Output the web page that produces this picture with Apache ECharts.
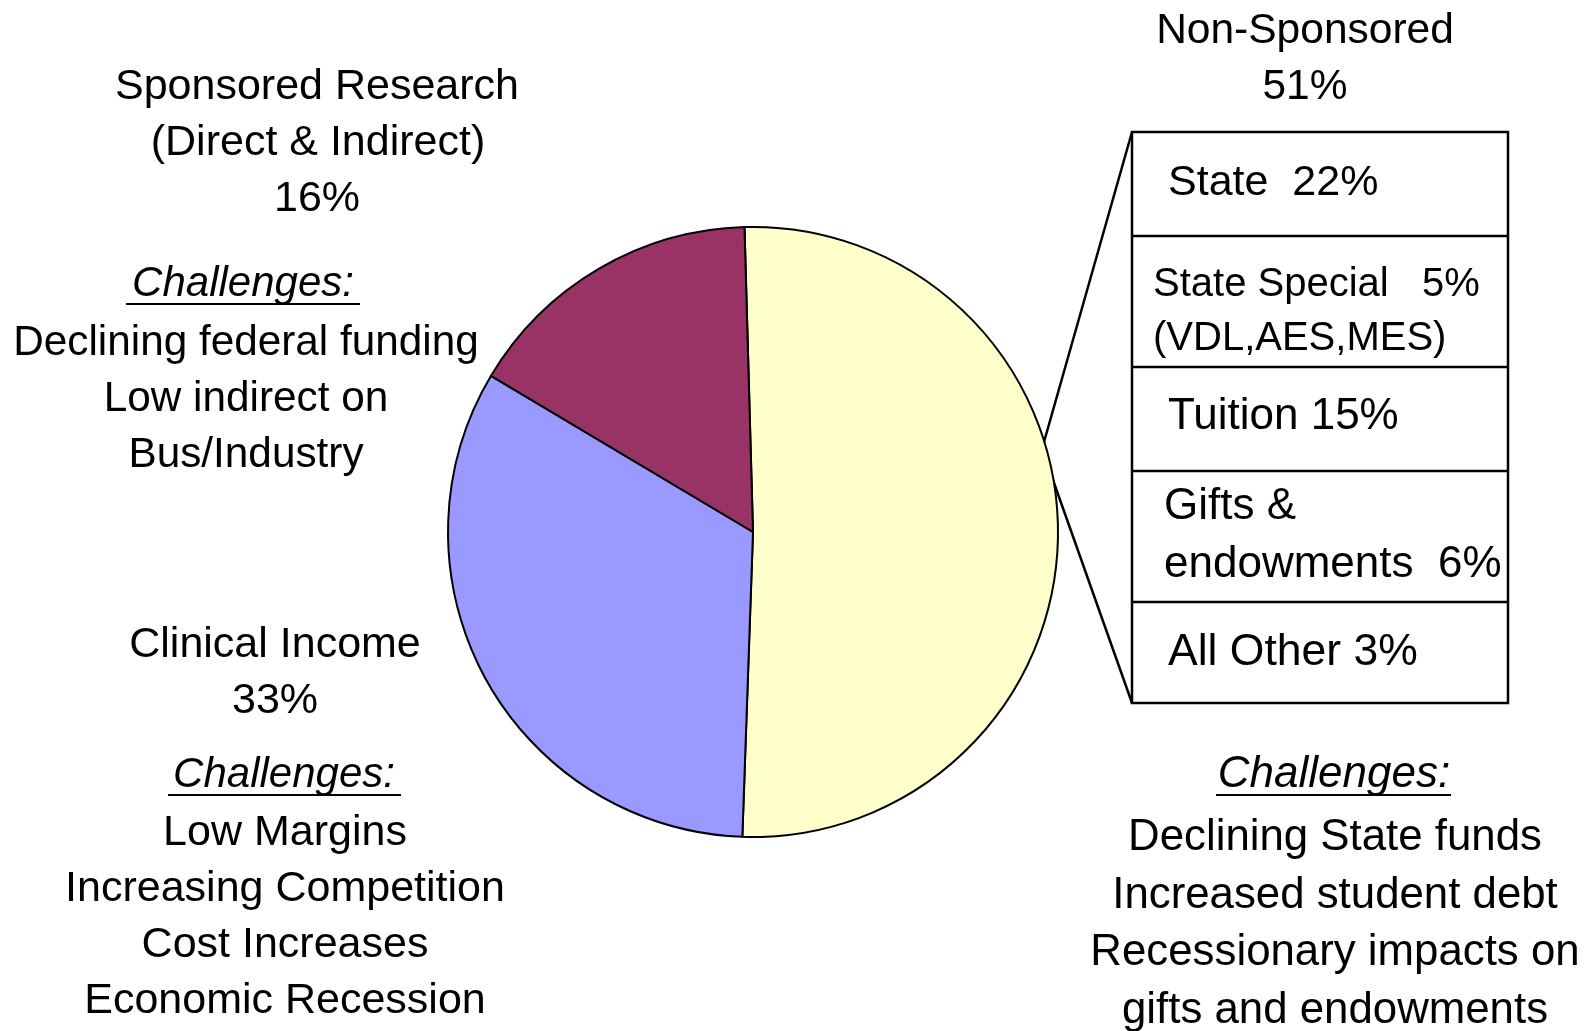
<!DOCTYPE html>
<html>
<head>
<meta charset="utf-8">
<title>Revenue sources</title>
<script src="https://cdn.jsdelivr.net/npm/echarts@6/dist/echarts.min.js"></script>
<style>
  html, body { margin: 0; padding: 0; background: #fff; }
  #chart { width: 1593px; height: 1031px; }
</style>
</head>
<body>
<div id="chart"></div>
<script>
// main split of revenue
const segments = ['Non-Sponsored', 'Clinical Income', 'Sponsored Research'];
const shares = [51, 33, 16];
const segColors = ['#FFFFCC', '#9999FF', '#993366'];

// non-sponsored breakdown (box on the right)
const subLabels = ['State  {v}%', 'State Special   {v}%\n(VDL,AES,MES)', 'Tuition {v}%', 'Gifts &\nendowments  {v}%', 'All Other {v}%'];
const subShares = [22, 5, 15, 6, 3];

// challenge notes
const researchNotes = ['Declining federal funding', 'Low indirect on', 'Bus/Industry'];
const clinicalNotes = ['Low Margins', 'Increasing Competition', 'Cost Increases', 'Economic Recession'];
const nonSponsoredNotes = ['Declining State funds', 'Increased student debt', 'Recessionary impacts on', 'gifts and endowments'];

const FONT = '"Liberation Sans", Arial, sans-serif';
const DY = 3; // glyph centre vs middle baseline
const chart = echarts.init(document.getElementById('chart'));

function txt(text, x, y, size, opts) {
  opts = opts || {};
  return {
    type: 'text',
    x: x,
    y: y + DY,
    silent: true,
    style: {
      text: text,
      font: (opts.italic ? 'italic ' : '') + size + 'px ' + FONT,
      fill: '#000',
      textAlign: opts.align || 'center',
      textVerticalAlign: 'middle',
      lineHeight: opts.lineHeight || size * 1.25
    }
  };
}

function underline(x1, x2, y) {
  return {
    type: 'line',
    silent: true,
    shape: { x1: x1, y1: y, x2: x2, y2: y },
    style: { stroke: '#000', lineWidth: 2 }
  };
}

const elements = [];

// Sponsored research block (top left)
elements.push(txt('Sponsored Research', 317, 84, 43));
elements.push(txt('(Direct & Indirect)', 318, 140, 43));
elements.push(txt(shares[2] + '%', 317, 196, 43));
elements.push(txt('Challenges:', 243, 281, 42, { italic: true }));
elements.push(underline(126, 360, 304));
researchNotes.forEach((t, i) => elements.push(txt(t, 246, 340 + i * 56, 42.3)));

// Clinical block (bottom left)
elements.push(txt(segments[1], 275, 642, 43));
elements.push(txt(shares[1] + '%', 275, 698, 43));
elements.push(txt('Challenges:', 284, 772, 42, { italic: true }));
elements.push(underline(168, 401, 795));
clinicalNotes.forEach((t, i) => elements.push(txt(t, 285, 830 + i * 56, 43)));

// Non-sponsored header
elements.push(txt(segments[0], 1305, 28, 42.5));
elements.push(txt(shares[0] + '%', 1305, 84, 42.5));

// Non-sponsored challenges (bottom right)
elements.push(txt('Challenges:', 1334, 772, 44, { italic: true }));
elements.push(underline(1216, 1451, 795));
nonSponsoredNotes.forEach((t, i) => elements.push(txt(t, 1335, 835 + i * 57.7, 43.8)));

// breakdown box
const boxLeft = 1132, boxRight = 1508;
const rowEdges = [132, 236, 367, 471, 602, 703];
const rowTextY = [180, 309, 414, 533, 650];
const rowTextX = [1168, 1153, 1168, 1164, 1168];
const rowFont = [43, 40, 44, 44, 44.5];
const rowLineH = [54, 54, 54, 58, 54];

elements.push({
  type: 'rect',
  silent: true,
  shape: { x: boxLeft, y: rowEdges[0], width: boxRight - boxLeft, height: rowEdges[5] - rowEdges[0] },
  style: { fill: '#fff', stroke: '#000', lineWidth: 2.5 }
});
for (let i = 1; i < rowEdges.length - 1; i++) {
  elements.push({
    type: 'line',
    silent: true,
    shape: { x1: boxLeft, y1: rowEdges[i], x2: boxRight, y2: rowEdges[i] },
    style: { stroke: '#000', lineWidth: 2.5 }
  });
}
subLabels.forEach((lab, i) => {
  elements.push(txt(lab.replace('{v}', subShares[i]), rowTextX[i], rowTextY[i], rowFont[i],
    { align: 'left', lineHeight: rowLineH[i] }));
});

// connectors from the box to the pie edge
const joint = [1042, 449];
elements.push({
  type: 'line', silent: true,
  shape: { x1: boxLeft, y1: rowEdges[0], x2: joint[0], y2: joint[1] },
  style: { stroke: '#000', lineWidth: 2.5 }
});
elements.push({
  type: 'line', silent: true,
  shape: { x1: boxLeft, y1: rowEdges[5], x2: joint[0], y2: joint[1] },
  style: { stroke: '#000', lineWidth: 2.5 }
});

chart.setOption({
  animation: false,
  backgroundColor: '#fff',
  series: [
    {
      type: 'pie',
      center: [753, 532],
      radius: 305,
      startAngle: 91.6,
      clockwise: true,
      silent: true,
      label: { show: false },
      labelLine: { show: false },
      itemStyle: { borderColor: '#000', borderWidth: 2 },
      emphasis: { disabled: true },
      data: segments.map((name, i) => ({
        name: name,
        value: shares[i],
        itemStyle: { color: segColors[i] }
      }))
    }
  ],
  graphic: { elements: elements }
});
</script>
</body>
</html>
